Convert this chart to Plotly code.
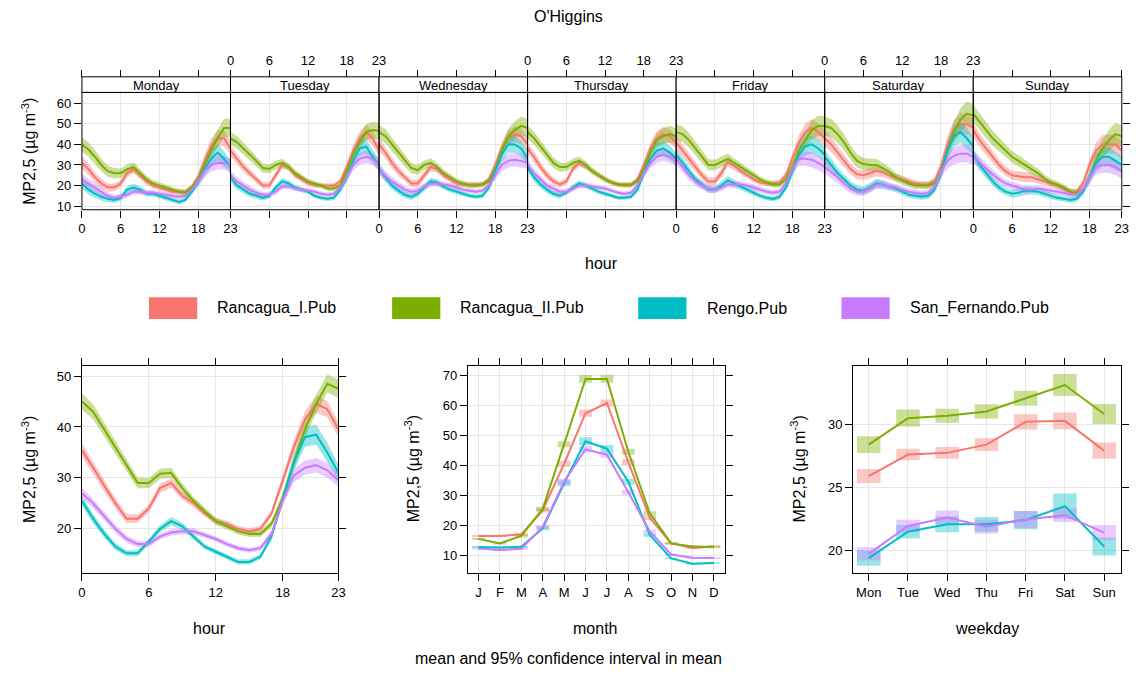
import plotly.graph_objects as go

W, H = 1140, 674
FONT = "Liberation Sans, Arial, sans-serif"

series = ["Rancagua_I.Pub", "Rancagua_II.Pub", "Rengo.Pub", "San_Fernando.Pub"]
colors = ["#F8766D", "#7CAE00", "#00BFC4", "#C77CFF"]
fills = ["rgba(248,118,109,0.4)", "rgba(124,174,0,0.4)", "rgba(0,191,196,0.4)", "rgba(199,124,255,0.4)"]

days = ["Monday", "Tuesday", "Wednesday", "Thursday", "Friday", "Saturday", "Sunday"]
hours = list(range(24))
hour_ticks = [0, 6, 12, 18, 23]

# ---- day.hour means (one list of 24 per day) ----
rancagua_i_week = [
    [31, 28, 24, 21, 19, 19, 21, 26, 28, 25, 22, 20, 19, 18, 17, 17, 17, 19, 24, 32, 39, 43, 43, 38],
    [37, 33, 29, 26, 23, 20, 20, 25, 30, 29, 25, 23, 21, 20, 20, 20, 20, 22, 29, 37, 43, 46, 43, 37],
    [40, 36, 31, 27, 24, 21, 21, 25, 29, 28, 25, 23, 21, 20.5, 20.5, 20.5, 20.5, 23, 30, 38, 43, 45, 44, 40],
    [38, 34, 29, 25, 22, 20.5, 22, 28, 31, 29.5, 27, 25, 23, 21.5, 20.5, 20, 20, 23, 30, 38, 43, 45, 44, 41],
    [41, 37, 33, 29, 25, 22, 22, 26, 31.5, 29.5, 27, 25, 23, 21.5, 21, 21, 21.5, 25, 33, 41, 46, 48, 46, 43],
    [43, 40, 36, 32, 28, 25.5, 25, 26, 27, 26.5, 25, 24, 23, 22, 21, 20.5, 20.5, 22, 29, 40, 47, 50, 50, 48],
    [47, 42, 38, 34, 30, 27, 25, 24.5, 24, 24, 23, 22, 21, 20, 18.5, 17, 17, 21, 30, 37, 40, 40, 40, 37],
]
rancagua_ii_week = [
    [40, 37.5, 34, 30, 27, 26, 26, 28, 29, 26, 23, 21, 20, 19, 18, 17, 16.5, 19, 23, 30, 37, 43, 48, 48],
    [43, 41, 38, 35, 32, 28.5, 28, 30, 31, 29, 26, 24, 22, 21, 20, 18.5, 18.5, 20, 27, 35, 41, 46, 47, 46.5],
    [46, 44, 40, 36, 32, 28.5, 27.5, 30, 31, 29, 26, 24, 22, 21, 20, 20, 20.5, 22, 28, 37, 44, 47, 49, 48],
    [46, 43, 39, 35, 31, 29, 29, 31, 32, 30, 27, 25, 23, 21.5, 20.5, 20.5, 20.5, 22, 28, 36, 42, 44, 45, 44],
    [46, 45, 42, 38, 34, 30, 30, 31.5, 33, 31, 29, 27, 25, 23, 21.5, 20.5, 20.5, 23, 29, 37, 42, 47, 49, 49],
    [49, 48, 45, 41, 36, 32, 30.5, 30, 30, 28.5, 26.5, 24, 22.5, 21, 20, 20, 20, 21, 27, 37, 46, 52, 55, 54],
    [55, 51, 47, 43, 40, 37, 34, 32, 30, 28, 26, 23.5, 21.5, 20.5, 19, 17, 16.5, 18, 24, 32, 38, 42, 45, 44],
]
rengo_week = [
    [21, 18, 16, 14.5, 13.5, 13, 14, 18, 19, 18, 16, 16, 15, 14, 13, 12, 13, 17, 22, 28, 33, 36, 33, 29],
    [24, 20, 18, 16, 15, 14, 15, 19, 22, 21, 19, 18, 17, 15, 14, 13.5, 14, 18, 24, 32, 38, 39, 34, 30],
    [28, 24, 20, 17.5, 15.5, 14.5, 16, 19, 22, 21.5, 19.5, 18, 17, 16, 15, 14.5, 15, 19, 27, 35, 40, 40, 38, 33],
    [29, 24, 20.5, 18, 16, 15, 16.5, 19, 21, 20, 18.5, 17, 16, 15, 14, 14, 14.5, 18, 26, 33, 37, 38, 36, 33],
    [35, 31, 27, 23, 20.5, 18, 18, 20, 22.5, 21, 19.5, 18, 16.5, 15, 14, 13.5, 14.5, 19, 27, 35, 39, 40, 38, 35],
    [34, 30, 26, 23, 20, 18, 17.5, 19, 21, 20.5, 19.5, 18.5, 17, 15.5, 15, 14.5, 15, 18, 26, 37, 44, 46, 43, 39],
    [35, 30, 26, 22, 19, 17, 16, 16.5, 17.5, 17.5, 17, 16, 15, 14, 13.5, 13, 13.5, 17, 24, 31, 34, 34, 32, 30],
]
san_fernando_week = [
    [23, 21, 19, 17, 15, 14, 14.5, 15.5, 17, 17, 16.5, 16.5, 16, 15.5, 15, 14.5, 15, 18, 22, 27, 30, 31, 31, 30],
    [25, 22, 20, 18, 16.5, 15.5, 15.5, 17, 19.5, 19.5, 18.5, 18, 17.5, 17, 16, 15.5, 16, 19, 24, 30, 33, 34, 33, 30],
    [28, 24.5, 22, 20, 18, 17, 17.5, 19.5, 21, 21, 20.5, 20, 19, 18, 17.5, 17, 17.5, 20, 25, 30, 32, 32.5, 32, 31],
    [30, 26, 23, 20, 18.5, 17, 17, 18.5, 20, 20, 19.5, 19, 18.5, 17.5, 16.5, 16, 16.5, 20, 26, 31, 34, 35, 34, 32],
    [33, 29, 25, 22, 20, 18.5, 18, 19, 20.5, 20.5, 20.5, 20, 19, 18, 17, 16.5, 17, 21, 28, 33, 33, 32.5, 31, 29],
    [29, 26.5, 24, 21, 18.5, 17, 17, 18.5, 20.5, 20.5, 19.5, 19, 18, 17, 16.5, 16, 16.5, 19, 27, 32, 34.5, 35.5, 35.5, 34],
    [34, 31, 28, 25.5, 23, 21, 20, 19, 18, 18, 18.5, 18, 17.5, 17, 16.5, 15.5, 15.5, 18, 24, 29, 30, 30, 29, 27],
]
week_means = [rancagua_i_week, rancagua_ii_week, rengo_week, san_fernando_week]

# CI half widths by hour of day for the day.hour panel, with a per-day factor
week_hw_ri = [3.0, 2.8, 2.6, 2.3, 2.0, 1.8, 1.8, 2.0, 2.0, 1.8, 1.6, 1.4, 1.3, 1.2, 1.2, 1.2, 1.2, 1.5, 2.3, 3.2, 3.8, 4.0, 3.8, 3.5]
week_hw_rii = [3.5, 3.5, 3.3, 3.0, 2.8, 2.5, 2.3, 2.3, 2.3, 2.0, 1.8, 1.6, 1.5, 1.4, 1.3, 1.3, 1.3, 1.5, 2.2, 3.0, 3.8, 4.3, 4.5, 4.5]
week_hw_rengo = [2.5, 2.3, 2.0, 1.8, 1.6, 1.5, 1.5, 1.7, 1.8, 1.6, 1.4, 1.3, 1.2, 1.1, 1.1, 1.1, 1.2, 1.5, 2.5, 3.5, 4.0, 4.0, 3.8, 3.3]
week_hw_sf = [2.5, 2.3, 2.1, 1.9, 1.7, 1.5, 1.5, 1.5, 1.5, 1.4, 1.3, 1.3, 1.2, 1.2, 1.2, 1.2, 1.2, 1.5, 2.2, 3.0, 3.2, 3.3, 3.2, 3.0]
week_hw = [week_hw_ri, week_hw_rii, week_hw_rengo, week_hw_sf]
day_factor = [1.0, 0.9, 1.0, 0.9, 1.1, 1.3, 1.2]

# ---- hour means ----
hour_ri = [35.5, 32, 28.5, 25, 22, 22, 24, 28, 29, 26.5, 25, 23, 21.5, 21, 20, 19.5, 20, 23, 29.5, 36, 41.5, 44.5, 43.5, 39.5]
hour_rii = [45, 43, 39.5, 36, 32.5, 29, 29, 30.8, 31, 28, 25.5, 23.5, 21.5, 20.5, 19.5, 19, 19, 21, 26, 33, 39.5, 44.5, 48.5, 47.5]
hour_rengo = [25.5, 22, 19, 16.5, 15.2, 15.2, 17.5, 20, 21.5, 20.5, 18.5, 16.5, 15.5, 14.5, 13.5, 13.5, 14.5, 18.5, 26, 33, 38, 38.5, 35, 31]
hour_sf = [27, 25, 22.5, 20, 18, 17, 17, 18.5, 19.3, 19.5, 19.5, 18.8, 18, 17, 16.2, 15.8, 16.2, 19, 25.5, 30.5, 32, 32.5, 31.5, 29.5]
hour_means = [hour_ri, hour_rii, hour_rengo, hour_sf]
hour_hw_ri = [1.3, 1.2, 1.1, 1.0, 0.9, 0.8, 0.8, 0.9, 0.9, 0.8, 0.7, 0.6, 0.6, 0.6, 0.6, 0.6, 0.6, 0.7, 1.0, 1.4, 1.6, 1.7, 1.6, 1.5]
hour_hw_rii = [1.6, 1.5, 1.4, 1.3, 1.2, 1.1, 1.0, 1.0, 1.0, 0.9, 0.8, 0.7, 0.7, 0.6, 0.6, 0.6, 0.6, 0.7, 1.0, 1.3, 1.6, 1.8, 1.8, 1.8]
hour_hw_rengo = [1.0, 0.9, 0.8, 0.7, 0.6, 0.6, 0.6, 0.7, 0.8, 0.7, 0.6, 0.5, 0.5, 0.5, 0.5, 0.5, 0.5, 0.7, 1.1, 1.6, 1.9, 2.0, 1.9, 1.6]
hour_hw_sf = [1.0, 0.9, 0.8, 0.8, 0.7, 0.6, 0.6, 0.6, 0.6, 0.6, 0.6, 0.5, 0.5, 0.5, 0.5, 0.5, 0.5, 0.7, 1.0, 1.3, 1.4, 1.4, 1.4, 1.3]
hour_hw = [hour_hw_ri, hour_hw_rii, hour_hw_rengo, hour_hw_sf]

# ---- month means ----
months = list(range(1, 13))
month_labels = ["J", "F", "M", "A", "M", "J", "J", "A", "S", "O", "N", "D"]
month_ri = [16.5, 16.5, 17, 25, 40.5, 57.3, 60.7, 41, 22.5, 14, 12.5, 13]
month_rii = [15.5, 14, 16.5, 25.5, 47, 68.7, 68.7, 44.5, 24, 14, 13, 12.8]
month_rengo = [12.8, 12.6, 12.9, 19, 34, 48, 45.5, 34.5, 16.8, 9, 7.2, 7.5]
month_sf = [12.3, 11.8, 12.2, 19.5, 34.5, 45.3, 43.5, 31, 18, 10.3, 9.2, 9.1]
month_means = [month_ri, month_rii, month_rengo, month_sf]
month_hw_ri = [0.4, 0.4, 0.5, 0.7, 1.0, 1.2, 1.2, 1.0, 0.7, 0.4, 0.4, 0.4]
month_hw_rii = [0.4, 0.4, 0.5, 0.7, 1.0, 1.3, 1.3, 1.0, 0.7, 0.4, 0.4, 0.4]
month_hw_rengo = [0.3, 0.3, 0.4, 0.6, 1.0, 1.3, 1.2, 0.9, 0.6, 0.3, 0.3, 0.3]
month_hw_sf = [0.3, 0.3, 0.4, 0.6, 0.9, 1.1, 1.0, 0.8, 0.5, 0.3, 0.3, 0.3]
month_hw = [month_hw_ri, month_hw_rii, month_hw_rengo, month_hw_sf]

# ---- weekday means ----
weekdays = list(range(1, 8))
weekday_labels = ["Mon", "Tue", "Wed", "Thu", "Fri", "Sat", "Sun"]
wd_ri = [25.88, 27.59, 27.72, 28.37, 30.18, 30.26, 27.9]
wd_rii = [28.37, 30.47, 30.66, 31.0, 32.05, 33.1, 30.8]
wd_rengo = [19.37, 21.47, 22.05, 22.05, 22.39, 23.49, 20.29]
wd_sf = [19.71, 21.92, 22.6, 21.87, 22.44, 22.78, 21.39]
wd_means = [wd_ri, wd_rii, wd_rengo, wd_sf]
wd_hw_ri = [0.55, 0.46, 0.46, 0.5, 0.6, 0.66, 0.64]
wd_hw_rii = [0.67, 0.68, 0.55, 0.58, 0.6, 0.87, 0.8]
wd_hw_rengo = [0.6, 0.52, 0.62, 0.59, 0.72, 1.0, 0.72]
wd_hw_sf = [0.52, 0.5, 0.55, 0.55, 0.66, 0.55, 0.6]
wd_hw = [wd_hw_ri, wd_hw_rii, wd_hw_rengo, wd_hw_sf]


def px(x):
    return x / W


def py(y):
    return 1 - y / H


fig = go.Figure()


def band(xs, mean, hw, fac, fill, xa, ya):
    up = [m + h * fac for m, h in zip(mean, hw)]
    lo = [m - h * fac for m, h in zip(mean, hw)]
    fig.add_trace(go.Scatter(x=list(xs) + list(xs)[::-1], y=up + lo[::-1], fill="toself",
                             fillcolor=fill, line=dict(width=0), mode="lines",
                             xaxis=xa, yaxis=ya, showlegend=False, hoverinfo="skip"))


# top day.hour panel
for d in range(7):
    xa = "x" if d == 0 else f"x{d + 1}"
    for s in range(4):
        band(hours, week_means[s][d], week_hw[s], day_factor[d], fills[s], xa, "y")
    for s in range(4):
        fig.add_trace(go.Scatter(x=hours, y=week_means[s][d], mode="lines",
                                 line=dict(color=colors[s], width=2), xaxis=xa, yaxis="y",
                                 showlegend=False, hoverinfo="skip"))
# dummy traces for the extra axes
for i in range(8, 15):
    fig.add_trace(go.Scatter(x=[None], y=[None], xaxis=f"x{i}", yaxis="y", showlegend=False))
fig.add_trace(go.Scatter(x=[None], y=[None], xaxis="x7", yaxis="y2", showlegend=False))

# hour panel
for s in range(4):
    band(hours, hour_means[s], hour_hw[s], 1.0, fills[s], "x15", "y3")
for s in range(4):
    fig.add_trace(go.Scatter(x=hours, y=hour_means[s], mode="lines", line=dict(color=colors[s], width=2),
                             xaxis="x15", yaxis="y3", showlegend=False, hoverinfo="skip"))

# month panel
for s in range(4):
    fig.add_trace(go.Bar(x=months, y=[2 * h for h in month_hw[s]],
                         base=[m - h for m, h in zip(month_means[s], month_hw[s])],
                         width=0.6, marker=dict(color=fills[s], line=dict(width=0)),
                         xaxis="x16", yaxis="y4", showlegend=False, hoverinfo="skip"))
for s in range(4):
    fig.add_trace(go.Scatter(x=months, y=month_means[s], mode="lines", line=dict(color=colors[s], width=2),
                             xaxis="x16", yaxis="y4", showlegend=False, hoverinfo="skip"))

# weekday panel
for s in range(4):
    fig.add_trace(go.Bar(x=weekdays, y=[2 * h for h in wd_hw[s]],
                         base=[m - h for m, h in zip(wd_means[s], wd_hw[s])],
                         width=0.6, marker=dict(color=fills[s], line=dict(width=0)),
                         xaxis="x17", yaxis="y5", showlegend=False, hoverinfo="skip"))
for s in range(4):
    fig.add_trace(go.Scatter(x=weekdays, y=wd_means[s], mode="lines", line=dict(color=colors[s], width=2),
                             xaxis="x17", yaxis="y5", showlegend=False, hoverinfo="skip"))

GRID = "#e6e6e6"
tickfont = dict(family=FONT, size=13, color="#000")
layout = dict(width=W, height=H, margin=dict(l=0, r=0, t=0, b=0), plot_bgcolor="white",
              paper_bgcolor="white", barmode="overlay", showlegend=False,
              font=dict(family=FONT, size=12, color="#000"))

# top panel geometry
P_LEFT, P_W = 78.7, 150.0
TOP_STRIP, STRIP_BOT, P_BOT = 77.3, 93.0, 211.0
for d in range(7):
    key = "xaxis" if d == 0 else f"xaxis{d + 1}"
    layout[key] = dict(domain=[px(P_LEFT + P_W * d), px(P_LEFT + P_W * (d + 1))], range=[0, 23],
                       anchor="y", tickvals=hour_ticks, ticktext=[str(t) for t in hour_ticks],
                       ticks="outside", ticklen=7, tickcolor="#000", showticklabels=(d % 2 == 0),
                       tickfont=tickfont, showgrid=True, gridcolor=GRID, zeroline=False, showline=False)
    layout[f"xaxis{d + 8}"] = dict(overlaying=("x" if d == 0 else f"x{d + 1}"), side="top", anchor="free",
                                  position=py(TOP_STRIP), range=[0, 23], tickvals=hour_ticks,
                                  ticktext=[str(t) for t in hour_ticks], ticks="outside", ticklen=7,
                                  tickcolor="#000", showticklabels=(d % 2 == 1), tickfont=tickfont,
                                  showgrid=False, zeroline=False, showline=False)
layout["yaxis"] = dict(domain=[py(P_BOT), py(STRIP_BOT)], range=[8.2, 65.3], anchor="x",
                       tickvals=[10, 20, 30, 40, 50, 60], ticks="outside", ticklen=7, tickcolor="#000",
                       tickfont=tickfont, showgrid=True, gridcolor=GRID, zeroline=False, showline=False)
layout["yaxis2"] = dict(overlaying="y", side="right", anchor="x7", range=[8.2, 65.3],
                        tickvals=[10, 20, 30, 40, 50, 60], ticks="outside", ticklen=7, tickcolor="#000",
                        showticklabels=False, showgrid=False, zeroline=False, showline=False)

# bottom panels
B_TOP, B_BOT = 368.3, 576.7
bdom = [py(B_BOT), py(B_TOP)]
common_x = dict(ticks="outside", ticklen=7, tickcolor="#000", tickfont=tickfont, showgrid=True,
                gridcolor=GRID, zeroline=False, showline=True, linecolor="#000", linewidth=1, mirror="ticks")
layout["xaxis15"] = dict(domain=[px(78.7), px(337.7)], range=[0, 23], anchor="y3",
                         tickvals=hour_ticks, **common_x)
layout["yaxis3"] = dict(domain=bdom, range=[11.27, 51.95], anchor="x15", tickvals=[20, 30, 40, 50], **common_x)
layout["xaxis16"] = dict(domain=[px(468.3), px(727.7)], range=[0.5, 12.5], anchor="y4",
                         tickvals=months, ticktext=month_labels, **common_x)
layout["yaxis4"] = dict(domain=bdom, range=[4.06, 72.97], anchor="x16",
                        tickvals=[10, 20, 30, 40, 50, 60, 70], **common_x)
layout["xaxis17"] = dict(domain=[px(857.3), px(1128.3)], range=[0.6, 7.44], anchor="y5",
                         tickvals=weekdays, ticktext=weekday_labels, **common_x)
layout["yaxis5"] = dict(domain=bdom, range=[18.17, 34.6], anchor="x17", tickvals=[20, 25, 30], **common_x)

shapes = []
annotations = []


def label(text, x, y, size=16, angle=0, xanchor="center"):
    annotations.append(dict(text=text, x=px(x), y=py(y), xref="paper", yref="paper", showarrow=False,
                            xanchor=xanchor, yanchor="middle", textangle=angle,
                            font=dict(family=FONT, size=size, color="#000")))


for d in range(7):
    x0, x1 = P_LEFT + P_W * d, P_LEFT + P_W * (d + 1)
    shapes.append(dict(type="rect", xref="paper", yref="paper", x0=px(x0), x1=px(x1), y0=py(STRIP_BOT),
                       y1=py(TOP_STRIP), line=dict(color="#000", width=1), fillcolor="white", layer="above"))
    shapes.append(dict(type="rect", xref="paper", yref="paper", x0=px(x0), x1=px(x1), y0=py(P_BOT),
                       y1=py(STRIP_BOT), line=dict(color="#000", width=1), fillcolor="rgba(0,0,0,0)",
                       layer="above"))
    label(days[d], (x0 + x1) / 2, (TOP_STRIP + STRIP_BOT) / 2 + 0.5, size=13)

ytitle = "MP2,5 (µg m<sup>-3</sup>)"
label("O'Higgins", 570, 17, size=16)
label("hour", 603, 265)
label(ytitle, 25, 152, angle=-90)
label(ytitle, 25, 472, angle=-90)
label(ytitle, 412, 472, angle=-90)
label(ytitle, 802, 472, angle=-90)
label("hour", 208, 632)
label("month", 597, 632)
label("weekday", 993, 632)
label("mean and 95% confidence interval in mean", 570, 662)

# legend (key)
legend_rect_x = [146.4, 391.9, 640.4, 845.6]
for s in range(4):
    x0 = legend_rect_x[s]
    shapes.append(dict(type="rect", xref="paper", yref="paper", x0=px(x0), x1=px(x0 + 48.7),
                       y0=py(321), y1=py(299), line=dict(width=0), fillcolor=colors[s]))
    label(series[s], x0 + 67, 310, xanchor="left")

layout["shapes"] = shapes
layout["annotations"] = annotations
fig.update_layout(**layout)
fig.write_html("out.html")
